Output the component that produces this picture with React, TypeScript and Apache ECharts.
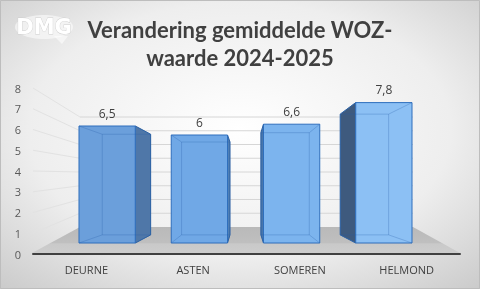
import React, { useEffect, useRef } from "react";
import * as echarts from "echarts";

const TITLE_LINES = ["Verandering gemiddelde WOZ-", "waarde 2024-2025"];
const CATEGORIES = ["DEURNE", "ASTEN", "SOMEREN", "HELMOND"];
const VALUES = [6.5, 6, 6.6, 7.8];
const Y_MIN = 0;
const Y_MAX = 8;
const Y_STEP = 1;

const FRONT_COLORS = ["#6b9fdb", "#70a8e6", "#7cb4ee", "#8cc0f4"];
const SIDE_COLORS = ["#4f77a8", "#4f7fb5", "#4a78ad", "#3e5a7e"];
const VP = [245, 185];
const DEPTH = 0.86;

export default function App() {
  const ref = useRef<HTMLDivElement>(null);
  useEffect(() => {
    if (!ref.current) return;
    const chart = echarts.init(ref.current, null, { renderer: "svg" });

    const backTop = 117, backBottom = 227, backLeft = 80, backRight = 413;
    const frontTop = 88, frontBottom = 254, frontLeft = 33;
    const steps = (Y_MAX - Y_MIN) / Y_STEP;
    const wall: any[] = [];
    for (let k = 1; k <= steps; k++) {
      const yb = backBottom - (k * (backBottom - backTop)) / steps;
      const yf = frontBottom - (k * (frontBottom - frontTop)) / steps;
      wall.push({
        type: "line",
        shape: { x1: backLeft, y1: yb, x2: backRight, y2: yb },
        style: { stroke: "#d6d6d6", lineWidth: 1 },
        silent: true,
      });
      wall.push({
        type: "line",
        shape: { x1: frontLeft, y1: yf, x2: backLeft, y2: yb },
        style: { stroke: "#e2e2e2", lineWidth: 1 },
        silent: true,
      });
    }

    chart.setOption({
      animation: false,
      backgroundColor: {
        type: "radial",
        x: 0.5,
        y: 0.45,
        r: 0.8,
        colorStops: [
          { offset: 0, color: "#ffffff" },
          { offset: 0.55, color: "#eeeeee" },
          { offset: 1, color: "#c4c4c4" },
        ],
      },
      title: {
        text: TITLE_LINES.join("\n"),
        left: "center",
        top: 10,
        textStyle: {
          fontFamily: "Lato",
          fontWeight: "bold",
          fontSize: 22,
          lineHeight: 28,
          color: "#404040",
        },
      },
      graphic: [
        {
          type: "rect",
          shape: { x: 0.5, y: 0.5, width: 479, height: 288 },
          style: { fill: "none", stroke: "#bdbdbd", lineWidth: 1 },
          silent: true,
        },
        ...wall,
        {
          type: "polygon",
          shape: {
            points: [
              [backLeft, backBottom],
              [backRight, backBottom],
              [460, 253],
              [32, 253],
            ],
          },
          style: {
            fill: {
              type: "linear",
              x: 0,
              y: 0,
              x2: 0,
              y2: 1,
              colorStops: [
                { offset: 0, color: "#b9b9b9" },
                { offset: 0.6, color: "#bfbfbf" },
                { offset: 0.65, color: "#c9c9c9" },
                { offset: 1, color: "#cdcdcd" },
              ],
            },
          },
          silent: true,
        },
        {
          type: "ellipse",
          shape: { cx: 44, cy: 27, rx: 29, ry: 12 },
          style: { fill: "rgba(255,255,255,0.55)" },
          silent: true,
        },
        {
          type: "polygon",
          shape: { points: [[54, 36], [68, 36], [62, 44]] },
          style: { fill: "rgba(255,255,255,0.55)" },
          silent: true,
        },
        {
          type: "text",
          x: 44,
          y: 27,
          style: {
            text: "DMG",
            align: "center",
            verticalAlign: "middle",
            font: "900 21px 'DejaVu Sans'",
            fill: "#ffffff",
            stroke: "#d0d0d0",
            lineWidth: 0.8,
          },
          silent: true,
        },
      ],
      grid: [
        { left: 33, right: 20, top: 88, bottom: 35, containLabel: false },
        { left: 61, width: 369, top: 99, bottom: 46, containLabel: false },
      ],
      xAxis: [
        {
          type: "category",
          gridIndex: 0,
          data: CATEGORIES,
          axisLine: { show: true, lineStyle: { color: "#404040", width: 2 } },
          axisTick: { show: false },
          axisLabel: {
            color: "#404040",
            fontSize: 11,
            fontFamily: "Open Sans",
            margin: 10,
          },
          splitLine: { show: false },
        },
        {
          type: "category",
          gridIndex: 1,
          data: CATEGORIES,
          show: false,
        },
      ],
      yAxis: [
        {
          type: "value",
          gridIndex: 0,
          min: Y_MIN,
          max: Y_MAX,
          interval: Y_STEP,
          axisLine: { show: false },
          axisTick: { show: false },
          splitLine: { show: false },
          axisLabel: {
            color: "#595959",
            fontSize: 11,
            fontFamily: "Open Sans",
            margin: 12,
          },
        },
        {
          type: "value",
          gridIndex: 1,
          min: Y_MIN,
          max: Y_MAX,
          interval: Y_STEP,
          show: false,
        },
      ],
      series: [
        {
          type: "custom",
          xAxisIndex: 1,
          yAxisIndex: 1,
          data: VALUES.map((v, i) => [i, v]),
          renderItem: (params: any, api: any) => {
            const i = api.value(0);
            const v = api.value(1);
            const base = api.coord([i, 0]);
            const top = api.coord([i, v]);
            const bw = api.size([1, 0])[0] * 0.61;
            const xl = base[0] - bw / 2;
            const xr = base[0] + bw / 2;
            const yt = top[1];
            const yb = base[1];
            const P = (x: number, y: number) => [
              VP[0] + DEPTH * (x - VP[0]),
              VP[1] + DEPTH * (y - VP[1]),
            ];
            const BLT = P(xl, yt), BRT = P(xr, yt), BLB = P(xl, yb), BRB = P(xr, yb);
            const children: any[] = [];
            let side: number[][] | null = null;
            if (xr < VP[0]) side = [[xr, yt], BRT, BRB, [xr, yb]];
            else if (xl > VP[0]) side = [[xl, yt], BLT, BLB, [xl, yb]];
            if (side) {
              children.push({
                type: "polygon",
                shape: { points: side },
                style: { fill: SIDE_COLORS[i], stroke: "#2f64a3", lineWidth: 1 },
              });
            }
            children.push({
              type: "rect",
              shape: { x: xl, y: yt, width: xr - xl, height: yb - yt },
              style: {
                fill: FRONT_COLORS[i],
                stroke: "#2f6fbd",
                lineWidth: 1,
              },
            });
            const inner = "rgba(40,95,170,0.28)";
            children.push({
              type: "polyline",
              shape: { points: [BLT, BRT, BRB, BLB, BLT] },
              style: { fill: "none", stroke: inner, lineWidth: 1 },
            });
            [
              [[xl, yt], BLT],
              [[xr, yt], BRT],
              [[xl, yb], BLB],
              [[xr, yb], BRB],
            ].forEach((seg) => {
              children.push({
                type: "line",
                shape: { x1: seg[0][0], y1: seg[0][1], x2: seg[1][0], y2: seg[1][1] },
                style: { stroke: inner, lineWidth: 1 },
              });
            });
            children.push({
              type: "text",
              style: {
                text: String(v).replace(".", ","),
                x: base[0],
                y: yt - 13,
                align: "center",
                verticalAlign: "middle",
                font: "12px 'Open Sans'",
                fill: "#404040",
              },
            });
            return { type: "group", children };
          },
        },
      ],
    });
    return () => chart.dispose();
  }, []);
  return (
    <div
      ref={ref}
      style={{ position: "fixed", left: 0, top: 0, width: 480, height: 289 }}
    />
  );
}
